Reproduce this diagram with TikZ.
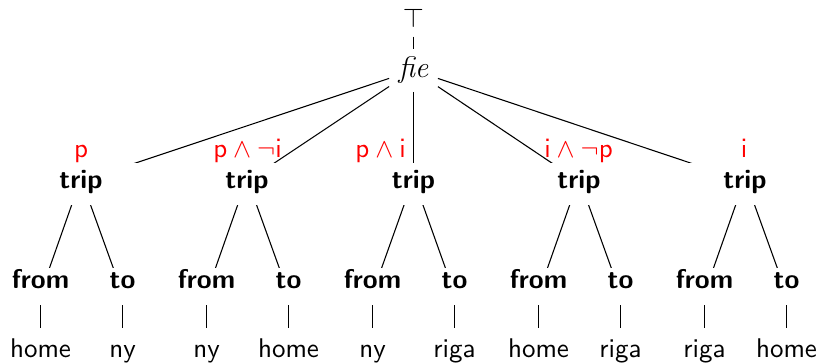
\documentclass[tikz,border=0pt]{standalone}
\usetikzlibrary{calc}
\begin{document}
\begin{tikzpicture}[x=0.37pt,y=-0.37pt,font=\sffamily,
  word/.style={anchor=base,text height=0.7em,text depth=0.2em},
  cat/.style={word,font=\sffamily\bfseries},
  cond/.style={anchor=base,text=red},
  link/.style={draw=black,line width=0.4pt}]
\useasboundingbox (0,0) rectangle (820,362);
% root
\node[anchor=base] (top) at (413.5,27) {$\top$};
\node[word,font=\fontsize{11}{13}\selectfont\rmfamily\itshape] (fie) at (413.5,77) {fie};
% conditions
\node[cond] (c1) at (81,157) {$\mathsf{p}$};
\node[cond] (c2) at (247.5,157) {$\mathsf{p}\land\neg\mathsf{i}$};
\node[cond] (c3) at (380.5,157) {$\mathsf{p}\land\mathsf{i}$};
\node[cond] (c4) at (578.5,157) {$\mathsf{i}\land\neg\mathsf{p}$};
\node[cond] (c5) at (744,157) {$\mathsf{i}$};
% trips
\foreach \i/\x in {1/81,2/247,3/413.5,4/579,5/745}
  \node[cat] (t\i) at (\x,188) {trip};
% from / to
\foreach \i/\x in {1/40.5,2/206.5,3/372.5,4/538.5,5/704.5}
  \node[cat] (f\i) at (\x,288) {from};
\foreach \i/\x in {1/122.5,2/288.5,3/454.5,4/620.5,5/786.5}
  \node[cat] (o\i) at (\x,288) {to};
% leaves
\node[word] (lf1) at (40.5,357) {home};
\node[word] (lo1) at (122.5,357) {ny};
\node[word] (lf2) at (206.5,357) {ny};
\node[word] (lo2) at (288.5,357) {home};
\node[word] (lf3) at (372.5,357) {ny};
\node[word] (lo3) at (454.5,357) {riga};
\node[word] (lf4) at (538.5,357) {home};
\node[word] (lo4) at (620.5,357) {riga};
\node[word] (lf5) at (704.5,357) {riga};
\node[word] (lo5) at (786.5,357) {home};
% edges
\begin{scope}
  \clip (0,36) rectangle (820,50);
  \draw[link] (top) -- (fie);
\end{scope}
\begin{scope}
  \clip (0,0) rectangle (820,162);
  \foreach \i in {1,...,5} \draw[link] (fie) -- (t\i.center);
\end{scope}
\begin{scope}
  \clip (0,205) rectangle (820,267);
  \foreach \i in {1,...,5} {
    \draw[link] ([shift={(0,-9.5)}]t\i.base) -- ([shift={(0,5.5)}]f\i.base);
    \draw[link] ([shift={(0,-9.5)}]t\i.base) -- ([shift={(0,5.5)}]o\i.base);
  }
\end{scope}
\begin{scope}
  \clip (0,305) rectangle (820,327);
  \foreach \i in {1,...,5} {
    \draw[link] (f\i.base) -- (lf\i.base);
    \draw[link] (o\i.base) -- (lo\i.base);
  }
\end{scope}
\end{tikzpicture}
\end{document}
